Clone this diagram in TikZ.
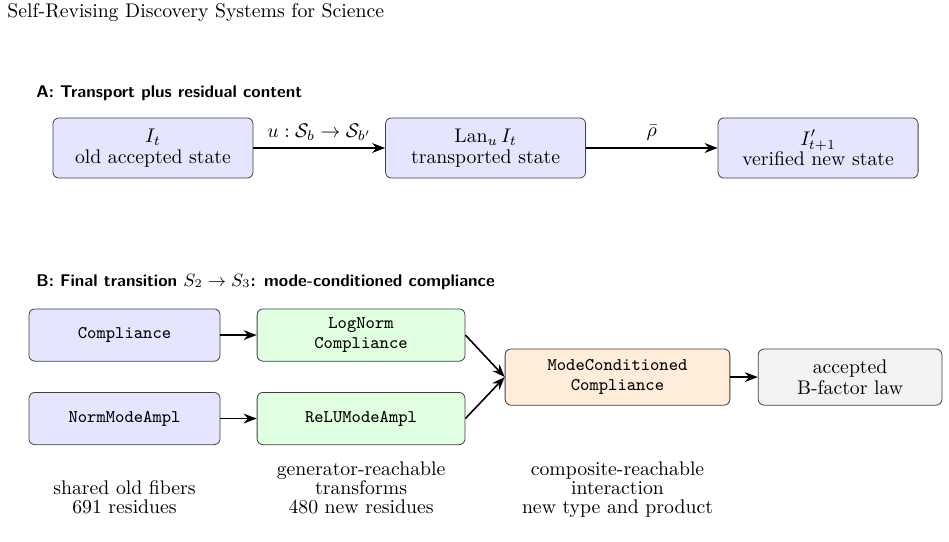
\documentclass[tikz,border=0pt]{standalone}
\usetikzlibrary{arrows.meta}

\begin{document}
\begin{tikzpicture}[>=Stealth,
    panel/.style={font=\sffamily\bfseries\fontsize{8.6}{10}\selectfont, anchor=base west, inner sep=0pt},
    state/.style={draw=black!75, rounded corners=3pt, align=center,
        font=\fontsize{10}{10.4}\selectfont, minimum width=3.56cm, minimum height=1.07cm},
    typ/.style={draw=black!75, rounded corners=3pt, align=center,
        font=\ttfamily\fontsize{9}{10.3}\selectfont, minimum height=0.93cm},
    note/.style={align=center, font=\fontsize{10}{9.6}\selectfont,
        anchor=south, inner sep=0pt, text depth=0pt},
    flow/.style={->, thick}]
\useasboundingbox (0,0) rectangle (16.89,-9.63);
\node[anchor=base west, inner sep=0pt] (hdr) at (0.125,-0.32) {Self-Revising Discovery Systems for Science};

% === A: transport plus residual ===
\node[panel] (titleA) at (0.64,-1.733) {A: Transport plus residual content};

\node[state, fill=blue!10] (old) at (2.723,-2.634) {$I_t$\\old accepted state};
\node[state, fill=blue!10] (transp) at (8.642,-2.634) {$\mathrm{Lan}_u\, I_t$\\transported state};
\node[state, fill=blue!10] (verif) at (14.56,-2.634) {$I'_{t+1}$\\verified new state};

\draw[flow] (old) -- node[above] {$u:\mathcal{S}_b\to\mathcal{S}_{b'}$} (transp);
\draw[flow] (transp) -- node[above] {$\bar{\rho}$} (verif);

% === B: final transition ===
\node[panel] (titleB) at (0.64,-5.09) {B: Final transition $S_2\to S_3$: mode-conditioned compliance};

\node[typ, fill=blue!10, minimum width=3.40cm] (compl) at (2.216,-5.963) {Compliance};
\node[typ, fill=blue!10, minimum width=3.40cm] (normamp) at (2.216,-7.449) {NormModeAmpl};
\node[typ, fill=green!12, minimum width=3.70cm] (logcompl) at (6.426,-5.963) {LogNorm\\Compliance};
\node[typ, fill=green!12, minimum width=3.70cm] (reluamp) at (6.426,-7.449) {ReLUModeAmpl};
\node[typ, fill=orange!15, minimum width=4.00cm, minimum height=1.0cm] (modecompl) at (10.99,-6.711) {ModeConditioned\\Compliance};
\node[state, fill=gray!10, minimum width=3.27cm, minimum height=1.0cm] (law) at (15.13,-6.711) {accepted\\B-factor law};

\draw[flow] (compl) -- (logcompl);
\draw[flow] (normamp) -- (reluamp);
\draw[flow] (logcompl.east) -- (modecompl.west);
\draw[flow] (reluamp.east) -- (modecompl.west);
\draw[flow] (modecompl) -- (law);

\node[note] (noteold) at (2.216,-9.15) {shared old fibers\\691 residues};
\node[note] (notegen) at (6.426,-9.15) {generator-reachable\\transforms\\480 new residues};
\node[note] (notecomp) at (10.99,-9.15) {composite-reachable\\interaction\\new type and product};
\end{tikzpicture}
\end{document}
